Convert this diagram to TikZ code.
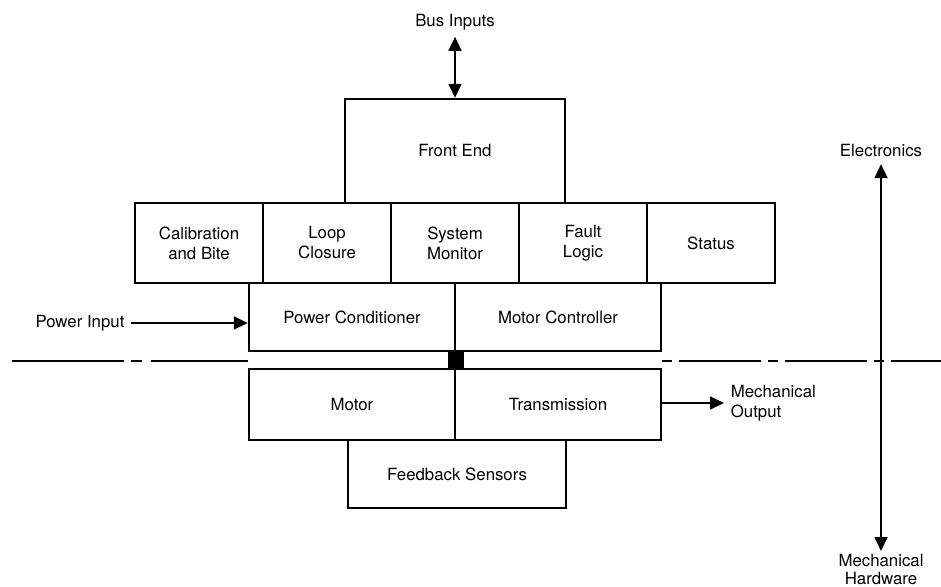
\documentclass[tikz,border=0pt]{standalone}
\usepackage{fontspec}
\setmainfont{TeX Gyre Heros}
\usetikzlibrary{arrows.meta}

\begin{document}
\begin{tikzpicture}[x=0.5pt, y=-0.5pt, line width=0.9pt,
  >={Triangle[length=7pt,width=6.5pt]},
  font=\fontsize{8.4}{10}\selectfont,
  box/.style={draw, line width=1.2pt, inner sep=0pt, align=center},
  cell/.style={box, minimum width=64pt, minimum height=40pt},
  half/.style={box, minimum width=103pt, minimum height=#1},
  lbl/.style={inner sep=3pt, align=center}]
 \useasboundingbox (0,0) rectangle (941,587);
 % electronics
 \node [lbl] (bus) at (455,22) {Bus Inputs};
 \node [box, minimum width=110pt, minimum height=52pt] (front) at (455,151) {Front End};
 \node [cell] (calib) at (199,243) {Calibration\\and Bite};
 \node [cell] (loop) at (327,243) {Loop\\Closure};
 \node [cell] (sysmon) at (455,243) {System\\Monitor};
 \node [cell] (fault) at (583,243) {Fault\\Logic};
 \node [cell] (status) at (711,243) {Status};
 \node [half=34pt] (pcond) at (352,317) {Power Conditioner};
 \node [half=34pt] (mctrl) at (558,317) {Motor Controller};
 \node [fill, minimum size=8pt, inner sep=0pt] (shaft) at (456,360) {};
 % mechanical hardware
 \node [half=35.5pt] (motor) at (352,404.5) {Motor};
 \node [half=35.5pt] (trans) at (558,404.5) {Transmission};
 \node [box, minimum width=109pt, minimum height=34pt] (fbs) at (457,474) {Feedback Sensors};
 % labels
 \node [lbl] (pin) at (80,323) {Power Input};
 \node [lbl, anchor=west, align=left] (mout) at (724,403) {Mechanical\\Output};
 \node [lbl] (elec) at (881,151) {Electronics};
 \node [lbl, inner sep=1pt, anchor=north, font=\fontsize{8.4}{9}\selectfont] (hw) at (881,551) {Mechanical\\Hardware};
 % connectors
 \draw [<->] (bus) -- (front);
 \draw [->] (pin) -- (pin -| pcond.west);
 \draw [->] (trans.east |- mout) -- (mout);
 \draw [<->] (elec) -- (hw);
 % boundary line
 \coordinate (bl) at (12,361);
 \coordinate (br) at (941,361);
 \draw [dash pattern=on 56pt off 3.5pt on 5.5pt off 4.5pt] (bl) -- (pcond.west |- bl);
 \draw [dash pattern=on 5pt off 3.5pt on 41pt off 3.5pt] (mctrl.east |- br) -- (br);
\end{tikzpicture}
\end{document}
